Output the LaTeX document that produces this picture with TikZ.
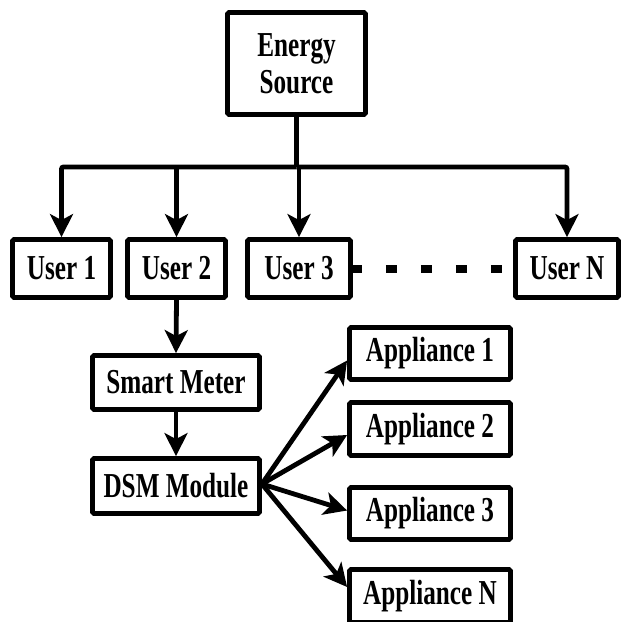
\documentclass[tikz,border=0pt]{standalone}
\usepackage{fontspec}
\setmainfont{Liberation Serif}
\newfontfamily\condfont[FakeStretch=0.72]{Liberation Serif}
\usetikzlibrary{arrows.meta,positioning,calc}
\begin{document}
\begin{tikzpicture}[x=1pt,y=-1pt,
  box/.style={draw,line width=4.8pt,rounded corners=1.5pt,inner sep=0pt,
    font=\condfont\fontsize{35}{37}\selectfont\bfseries,align=center},
  conn/.style={line width=4.8pt},
  arr/.style={conn,-{Stealth[length=23pt,width=23pt,inset=6pt]}}]
\useasboundingbox (0,0) rectangle (622,622);
\fill[white] (0,0) rectangle (622,622);
% nodes
\node[box,minimum width=138pt,minimum height=102pt] (es) at (296.5,63.5) {Energy\\Source};
\node[box,minimum width=98pt,minimum height=58pt] (u1) at (61.5,268.5) {User 1};
\node[box,minimum width=98pt,minimum height=58pt] (u2) at (176.5,268.5) {User 2};
\node[box,minimum width=103pt,minimum height=58pt] (u3) at (299,268.5) {User 3};
\node[box,minimum width=103pt,minimum height=58pt] (un) at (567,268.5) {User N};
\node[box,minimum width=167pt,minimum height=54pt] (sm) at (176,382.5) {Smart Meter};
\node[box,minimum width=167pt,minimum height=55pt] (dsm) at (176,486) {DSM Module};
\node[box,minimum width=161pt,minimum height=52pt] (a1) at (430,353.5) {Appliance 1};
\node[box,minimum width=161pt,minimum height=53pt] (a2) at (430,429) {Appliance 2};
\node[box,minimum width=161pt,minimum height=52pt] (a3) at (430,513.5) {Appliance 3};
\node[box,minimum width=161pt,minimum height=53pt] (an) at (430,596) {Appliance N};
% bus
\coordinate (bus) at (es.south |- 0,167);
\draw[conn] (es.south) -- (bus);
\draw[arr,rounded corners=2pt] (bus) -| (u1.north);
\draw[arr] (u2.north |- bus) -- (u2.north);
\draw[arr] (u3.north |- bus) -- (u3.north);
\draw[arr,rounded corners=2pt] (bus) -| (un.north);
% dotted link
\draw[line width=8pt,dash pattern=on 11pt off 24pt,dash phase=2pt] (u3.east) -- (un.west);
% chain
\draw[arr] (u2.south) -- (sm.north);
\draw[arr] (sm.south) -- (dsm.north);
% fan-out
\coordinate (hub) at ($(dsm.east)+(0,-2)$);
\draw[arr] (hub) -- ($(a1.west)+(0,7)$);
\draw[arr] (hub) -- ($(a2.west)+(0,6)$);
\draw[arr] (hub) -- ($(a3.west)+(0,-3)$);
\draw[arr] (hub) -- ($(an.west)+(0,-9)$);
\end{tikzpicture}
\end{document}
